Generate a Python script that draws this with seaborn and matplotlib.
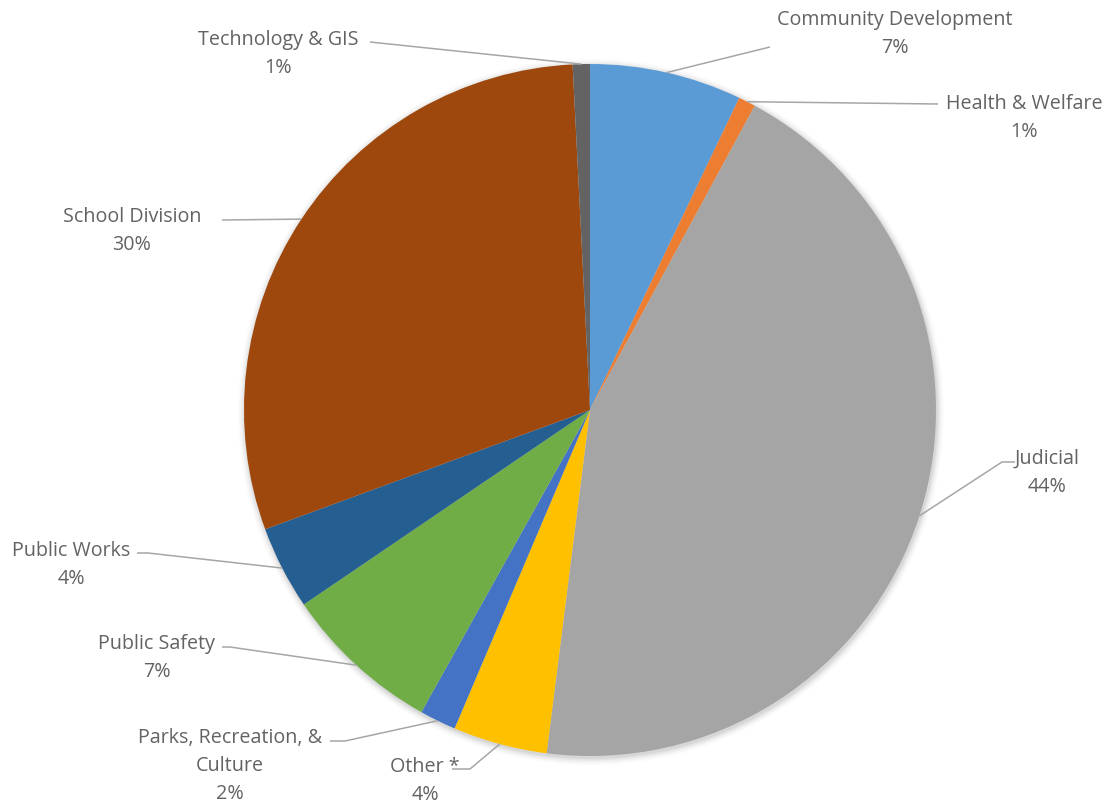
import matplotlib
matplotlib.use("Agg")
import matplotlib.pyplot as plt
import seaborn as sns
import numpy as np
from matplotlib.patches import Circle

# ---- data ----
categories = ["Community Development", "Health & Welfare", "Judicial", "Other *",
              "Parks, Recreation, &\nCulture", "Public Safety", "Public Works",
              "School Division", "Technology & GIS"]
shares = [7.1, 0.8, 44.1, 4.4, 1.7, 7.4, 3.9, 29.8, 0.8]
colors = ["#5B9BD5", "#ED7D31", "#A5A5A5", "#FFC000", "#4472C4",
          "#70AD47", "#255E91", "#9E480E", "#636363"]

# ---- layout (pixel coords, y measured from top) ----
W, H = 1109, 806
center_px = (590, 410)
radius_px = 346
label_pos = [(895, 34), (1024, 118), (1047, 473), (425, 781), (230, 766),
             (157, 658), (71, 565), (132, 231), (278, 54)]
leader_pts = [
    [(770, 47)],
    [(938, 104)],
    [(1002, 462), (1015, 462)],
    [(470, 769), (452, 769)],
    [(345, 741), (330, 741)],
    [(230, 647), (222, 647)],
    [(148, 553), (137, 553)],
    [(222, 220)],
    [(370, 42)],
]

sns.set_theme(style="white")
plt.rcParams['font.family'] = ['Open Sans', 'DejaVu Sans']

fig = plt.figure(figsize=(W / 100, H / 100), dpi=100)
ax = fig.add_axes([0, 0, 1, 1])

cx, cy = center_px[0], H - center_px[1]

# soft shadow
for i, a in enumerate([0.05, 0.04, 0.03, 0.02, 0.015]):
    ax.add_patch(Circle((cx + 1, cy - 2), radius_px + 1 + i * 1.5, color="black",
                        alpha=a, lw=0, zorder=0))

wedges, _ = ax.pie(shares, colors=sns.color_palette(colors), startangle=90,
                   counterclock=False, center=(cx, cy), radius=radius_px,
                   wedgeprops=dict(linewidth=0, zorder=2), frame=False)

ax.set_xlim(0, W)
ax.set_ylim(0, H)
ax.set_aspect("equal")
ax.axis("off")

text_color = "#636363"
line_color = "#A6A6A6"
for w, name, v, lp, pts in zip(wedges, categories, shares, label_pos, leader_pts):
    mid = np.deg2rad((w.theta1 + w.theta2) / 2)
    ex = cx + radius_px * np.cos(mid)
    ey = cy + radius_px * np.sin(mid)
    xs = [ex] + [p[0] for p in pts]
    ys = [ey] + [H - p[1] for p in pts]
    ax.plot(xs, ys, color=line_color, lw=1.1, zorder=3, solid_capstyle="butt")
    ax.text(lp[0], H - lp[1], f"{name}\n{v:.0f}%", ha="center", va="center",
            fontsize=14.2, color=text_color, linespacing=1.55, zorder=4)

fig.savefig("out.png", dpi=100, facecolor="white")
